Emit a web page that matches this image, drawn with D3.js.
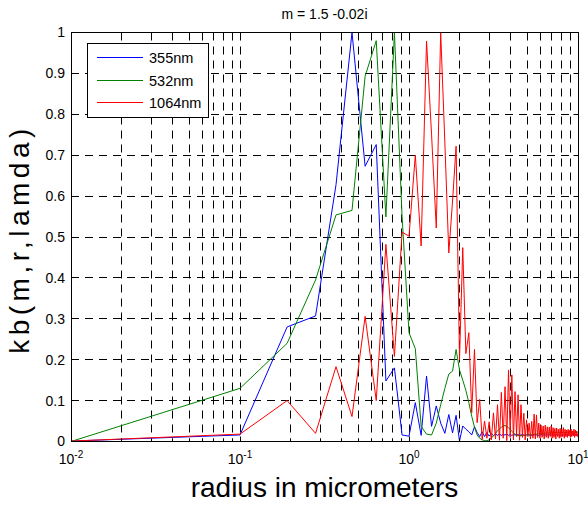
<!DOCTYPE html>
<html><head><meta charset="utf-8">
<script src="https://cdn.jsdelivr.net/npm/d3@7/dist/d3.min.js"></script>
<style>
body{margin:0;background:#fff}
svg{display:block}
text{font-family:"Liberation Sans",Arial,Helvetica,sans-serif;fill:#000}
</style>
</head><body>
<svg id="chart" width="588" height="505"></svg>
<script>
// ---- data ----
const radii = [0.01,0.10,0.19,0.28,0.37,0.46,0.55,0.64,0.73,0.82,
 0.91,1.00,1.09,1.18,1.27,1.36,1.45,1.54,1.63,1.72,
 1.81,1.90,1.99,2.08,2.17,2.26,2.35,2.44,2.53,2.62,
 2.71,2.80,2.89,2.98,3.07,3.16,3.25,3.34,3.43,3.52,
 3.61,3.70,3.79,3.88,3.97,4.06,4.15,4.24,4.33,4.42,
 4.51,4.60,4.69,4.78,4.87,4.96,5.05,5.14,5.23,5.32,
 5.41,5.50,5.59,5.68,5.77,5.86,5.95,6.04,6.13,6.22,
 6.31,6.40,6.49,6.58,6.67,6.76,6.85,6.94,7.03,7.12,
 7.21,7.30,7.39,7.48,7.57,7.66,7.75,7.84,7.93,8.02,
 8.11,8.20,8.29,8.38,8.47,8.56,8.65,8.74,8.83,8.92,
 9.01,9.10,9.19,9.28,9.37,9.46,9.55,9.64,9.73,9.82,
 9.91,10.00];

const kb355 = [0.001,0.016,0.28,0.307,0.628,1.0,0.673,0.726,0.148,0.18,
 0.016,0.013,0.095,0.015,0.16,0.037,0.087,0.045,0.02,0.066,
 0.021,0.064,0.001,0.038,0.03,0.024,0.016,0.036,0.022,0.012,
 0.024,0.012,0.022,0.013,0.02,0.014,0.019,0.015,0.018,0.015,
 0.017,0.016,0.018,0.015,0.017,0.015,0.017,0.016,0.016,0.017,
 0.015,0.016,0.017,0.016,0.015,0.016,0.017,0.016,0.016,0.015,
 0.016,0.016,0.017,0.016,0.016,0.015,0.016,0.016,0.017,0.016,
 0.016,0.016,0.015,0.016,0.016,0.017,0.016,0.016,0.016,0.015,
 0.016,0.016,0.016,0.017,0.016,0.016,0.016,0.016,0.015,0.016,
 0.016,0.016,0.017,0.016,0.016,0.016,0.016,0.015,0.016,0.016,
 0.016,0.016,0.016,0.017,0.016,0.016,0.016,0.016,0.016,0.015,
 0.016,0.016];

const kb532 = [0.0,0.13,0.24,0.395,0.554,0.565,0.893,0.98,0.549,1.0,
 0.55,0.266,0.227,0.037,0.018,0.016,0.045,0.09,0.13,0.165,
 0.172,0.225,0.175,0.15,0.125,0.095,0.062,0.035,0.016,0.008,
 0.004,0.002,0.002,0.004,0.008,0.014,0.02,0.026,0.031,0.035,
 0.038,0.039,0.037,0.034,0.029,0.025,0.021,0.018,0.016,0.015,
 0.014,0.014,0.015,0.015,0.015,0.016,0.016,0.016,0.017,0.017,
 0.017,0.018,0.018,0.018,0.019,0.019,0.019,0.02,0.02,0.02,
 0.02,0.02,0.021,0.021,0.021,0.021,0.021,0.021,0.021,0.021,
 0.021,0.022,0.022,0.022,0.022,0.022,0.022,0.022,0.022,0.022,
 0.022,0.022,0.022,0.022,0.022,0.022,0.023,0.023,0.023,0.023,
 0.023,0.023,0.023,0.023,0.023,0.023,0.023,0.023,0.023,0.023,
 0.023,0.023];

const kb1064 = [0.001,0.018,0.10,0.02,0.183,0.061,0.306,0.10,0.482,0.208,
 0.512,0.502,0.70,0.478,0.979,0.75,0.522,1.0,0.73,0.461,
 0.588,0.722,0.2,0.474,0.215,0.266,0.07,0.225,0.046,0.103,
 0.005,0.05,0.008,0.048,0.004,0.07,0.006,0.09,0.003,0.12,
 0.008,0.134,0.002,0.175,0.01,0.163,0.004,0.122,0.012,0.114,
 0.003,0.09,0.01,0.069,0.004,0.053,0.012,0.045,0.006,0.049,
 0.008,0.067,0.006,0.065,0.01,0.045,0.008,0.04,0.01,0.038,
 0.006,0.04,0.01,0.036,0.008,0.035,0.012,0.038,0.008,0.034,
 0.01,0.032,0.006,0.033,0.012,0.03,0.008,0.032,0.01,0.03,
 0.012,0.034,0.008,0.03,0.012,0.028,0.01,0.03,0.014,0.027,
 0.01,0.03,0.012,0.026,0.014,0.03,0.01,0.028,0.014,0.025,
 0.012,0.02];

const seriesNames = ["355nm","532nm","1064nm"];
const seriesColors = ["#0000ff","#008000","#ff0000"];
const yTickValues = [0,0.1,0.2,0.3,0.4,0.5,0.6,0.7,0.8,0.9,1];
const yTickLabels = ["0","0.1","0.2","0.3","0.4","0.5","0.6","0.7","0.8","0.9","1"];
const xDecades = [0.01,0.1,1,10];
const xDecadeExponents = ["-2","-1","0","1"];
const titleText = "m = 1.5 -0.02i";
const xLabelText = "radius in micrometers";
const yLabelText = "kb(m,r,lamda)";

// ---- layout ----
const L = 71, R = 578, T = 32.5, B = 441.5;
const svg = d3.select("#chart");
const x = d3.scaleLog().domain([0.01,10]).range([L,R]);
const y = d3.scaleLinear().domain([0,1]).range([B,T]);
const crisp = v => Math.round(v - 0.5) + 0.5;

// minor positions for log axis
const minorVals = [];
xDecades.slice(0,3).forEach(d => { for (let k=1;k<=9;k++) minorVals.push(+(d*k).toPrecision(3)); });
minorVals.push(10);

// grid
const grid = svg.append("g").attr("stroke","#000").attr("stroke-width",1)
  .attr("stroke-dasharray","8,6").attr("fill","none");
grid.selectAll("line.vg").data(minorVals.filter(v => v>0.01 && v<10)).enter()
  .append("line").attr("x1",d=>crisp(x(d))).attr("x2",d=>crisp(x(d)))
  .attr("y1",T).attr("y2",B);
grid.selectAll("line.hg").data(yTickValues.filter(v=>v>0 && v<1)).enter()
  .append("line").attr("y1",d=>crisp(y(d))).attr("y2",d=>crisp(y(d)))
  .attr("x1",L).attr("x2",R);

// series
svg.append("clipPath").attr("id","clip").append("rect")
  .attr("x",L).attr("y",T-1).attr("width",R-L+1).attr("height",B-T+2);
const seriesData = [kb355, kb532, kb1064];
const line = d3.line().x((d,i)=>x(radii[i])).y(d=>y(d));
svg.append("g").attr("clip-path","url(#clip)").selectAll("path")
  .data(seriesData).enter().append("path")
  .attr("d", d=>line(d)).attr("fill","none")
  .attr("stroke",(d,i)=>seriesColors[i]).attr("stroke-width",1)
  .attr("stroke-linejoin","miter");

// axes box
const ax = svg.append("g").attr("stroke","#000").attr("stroke-width",1).attr("fill","none");
ax.append("rect").attr("x",crisp(L)).attr("y",crisp(T)).attr("width",Math.round(R-L)).attr("height",Math.round(B-T));

// ticks
const tickG = svg.append("g").attr("stroke","#000").attr("stroke-width",1);
minorVals.forEach(v => {
  const isMajor = xDecades.includes(v);
  const len = isMajor ? 5 : 3;
  const px = crisp(x(v));
  tickG.append("line").attr("x1",px).attr("x2",px).attr("y1",crisp(B)).attr("y2",crisp(B)-len);
  tickG.append("line").attr("x1",px).attr("x2",px).attr("y1",crisp(T)).attr("y2",crisp(T)+len);
});
yTickValues.forEach(v => {
  const py = crisp(y(v));
  tickG.append("line").attr("x1",crisp(L)).attr("x2",crisp(L)+5).attr("y1",py).attr("y2",py);
  tickG.append("line").attr("x1",crisp(R)).attr("x2",crisp(R)-5).attr("y1",py).attr("y2",py);
});

// y tick labels
svg.append("g").selectAll("text").data(yTickValues).enter().append("text")
  .attr("x",L-6).attr("y",d=>y(d)).attr("dy","0.35em")
  .attr("text-anchor","end").attr("font-size",14)
  .text((d,i)=>yTickLabels[i]);

// x tick labels
xDecades.forEach((d,i) => {
  const t = svg.append("text").attr("x",x(d)).attr("y",464)
    .attr("text-anchor","middle").attr("font-size",14);
  t.append("tspan").text("10");
  t.append("tspan").attr("font-size",10).attr("dy",-6).text(xDecadeExponents[i]);
});

// title & axis labels
svg.append("text").attr("x",(L+R)/2).attr("y",18.5).attr("text-anchor","middle")
  .attr("font-size",14).text(titleText);
svg.append("text").attr("x",(L+R)/2).attr("y",497).attr("text-anchor","middle")
  .attr("font-size",28).text(xLabelText);
svg.append("text").attr("transform",`translate(29,${(T+B)/2 + 2}) rotate(-90)`)
  .attr("text-anchor","middle").attr("font-size",28).attr("letter-spacing",4.5)
  .text(yLabelText);

// legend
const lg = svg.append("g");
lg.append("rect").attr("x",87.5).attr("y",43.5).attr("width",121).attr("height",74)
  .attr("fill","#fff").attr("stroke","#000").attr("stroke-width",1);
const legY = [57.5, 80.5, 102.5];
seriesNames.forEach((n,i) => {
  lg.append("line").attr("x1",97).attr("x2",143).attr("y1",legY[i]).attr("y2",legY[i])
    .attr("stroke",seriesColors[i]).attr("stroke-width",1);
  lg.append("text").attr("x",149).attr("y",legY[i]).attr("dy","0.35em")
    .attr("font-size",14.5).text(n);
});
</script>
</body></html>
